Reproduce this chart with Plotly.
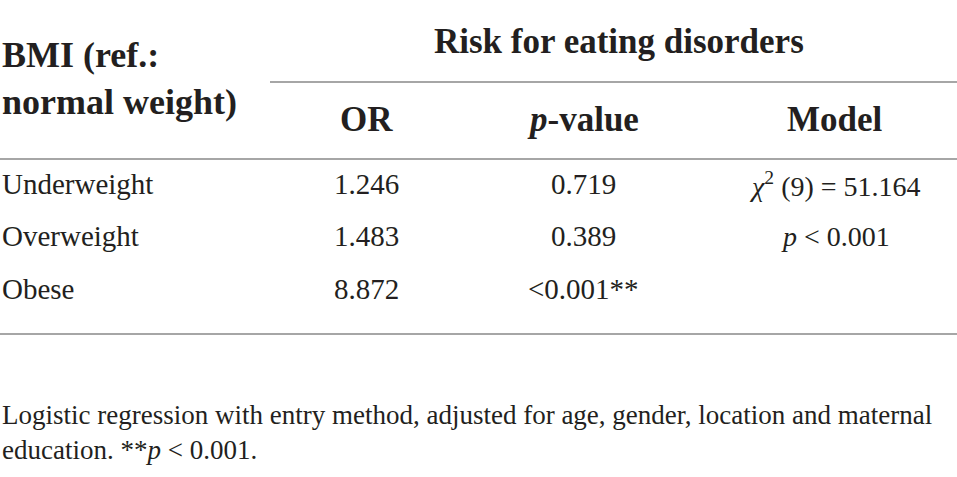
import plotly.graph_objects as go

# table content
row_labels = ["Underweight", "Overweight", "Obese"]
odds_ratio = ["1.246", "1.483", "8.872"]
p_values = ["0.719", "0.389", "&lt;0.001**"]
model_fit = ["<i>χ</i><sup>2</sup> (9) = 51.164", "<i>p</i> &lt; 0.001", ""]
col_headers = ["OR", "<i>p</i>-value", "Model"]
group_header = "Risk for eating disorders"
stub_header = "BMI (ref.:<br>normal weight)"
footnote = ("Logistic regression with entry method, adjusted for age, gender, location and maternal"
            "<br>education. **<i>p</i> &lt; 0.001.")

W, H = 957, 477
FONT = "Liberation Serif"
INK = "#231f20"
RULE = "#a6a6a6"

col_x = [366, 583, 835]
row_y = [184, 236, 289]

fig = go.Figure()


def add_text(x, y, text, size, bold=False, anchor="center", align="center"):
    if bold:
        text = f"<b>{text}</b>"
    fig.add_annotation(x=x, y=y, xref="x", yref="y", text=text, showarrow=False,
                       xanchor=anchor, yanchor="middle", align=align,
                       font=dict(family=FONT, size=size, color=INK))


# headers
add_text(0, 78, stub_header, 36, bold=True, anchor="left", align="left")
add_text(619, 41, group_header, 35, bold=True)
for x, h in zip(col_x, col_headers):
    add_text(x, 119, h, 35, bold=True)

# body
for y, lab, orv, pv, mf in zip(row_y, row_labels, odds_ratio, p_values, model_fit):
    add_text(0, y, lab, 29, anchor="left", align="left")
    add_text(col_x[0], y, orv, 29)
    add_text(col_x[1], y, pv, 29)
    if mf:
        add_text(col_x[2], y, mf, 28)

# footnote
fig.add_annotation(x=0, y=432, xref="x", yref="y", text=footnote, showarrow=False,
                   xanchor="left", yanchor="middle", align="left",
                   font=dict(family=FONT, size=27, color=INK))

# rules
for x0, y in [(270, 82), (0, 159), (0, 334)]:
    fig.add_shape(type="line", x0=x0, x1=W, y0=y, y1=y, xref="x", yref="y",
                  line=dict(color=RULE, width=2))

fig.update_xaxes(range=[0, W], visible=False, fixedrange=True)
fig.update_yaxes(range=[H, 0], visible=False, fixedrange=True)
fig.update_layout(width=W, height=H, margin=dict(l=0, r=0, t=0, b=0),
                  plot_bgcolor="white", paper_bgcolor="white", showlegend=False)

fig.write_html("out.html", post_script="document.body.style.margin = '0';",
               config={"displayModeBar": False})
